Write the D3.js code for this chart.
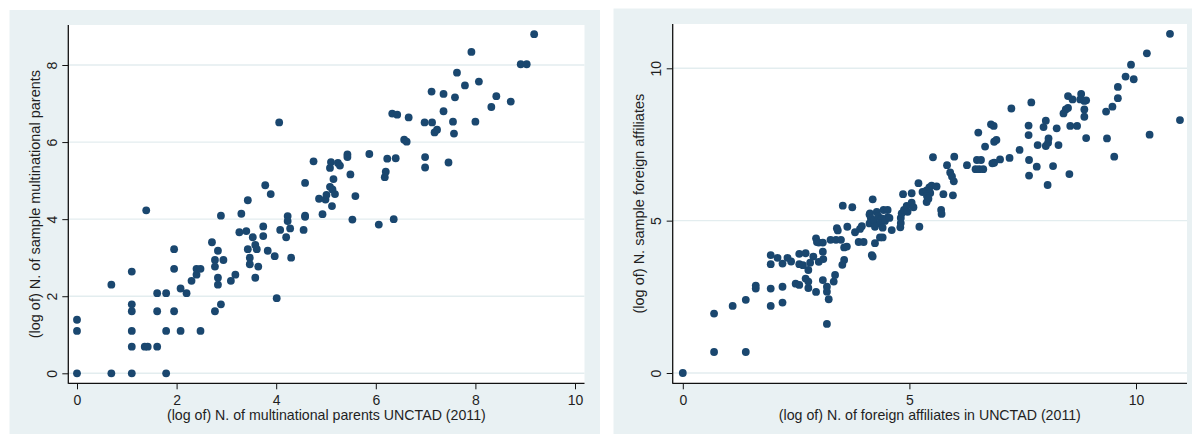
<!DOCTYPE html>
<html>
<head>
<meta charset="utf-8">
<script src="https://cdn.jsdelivr.net/npm/d3@7"></script>
<style>
  body { margin: 0; background: #ffffff; }
  svg text { font-family: "Liberation Sans", Arial, sans-serif; fill: #1f1f1f; }
</style>
</head>
<body>
<svg id="chart" width="1192" height="434"></svg>
<script>
"use strict"

// left panel: [log N. parents UNCTAD, log N. sample parents]
const parentsData = [
  [0,0],[0,1.39],[0,1.10],[0.69,0],[0.69,2.30],[1.10,0],[1.10,0.69],[1.10,1.10],[1.10,1.61],[1.10,1.79],
  [1.10,2.64],[1.39,4.23],[1.36,0.69],[1.42,0.69],[1.61,0.69],[1.61,1.61],[1.61,2.08],[1.79,0],[1.79,1.10],[1.79,2.08],
  [1.95,1.61],[1.95,2.71],[1.95,3.22],[2.08,1.10],[2.08,2.20],[2.20,2.08],[2.30,2.40],[2.40,2.56],[2.40,2.71],[2.48,2.71],
  [2.48,1.10],[2.71,3.40],[2.77,2.94],[2.77,2.77],[2.77,1.61],[2.83,3.18],[2.83,2.48],[2.83,2.30],[2.89,4.09],[2.89,1.79],
  [2.94,2.94],[3.09,2.40],[3.18,2.56],[3.26,3.66],[3.30,4.14],[3.40,3.69],[3.43,4.49],[3.43,3.22],[3.47,3.00],[3.47,2.83],
  [3.53,3.53],[3.58,3.33],[3.61,3.22],[3.58,2.48],[3.64,2.77],[3.74,3.81],[3.74,3.56],[3.78,4.88],[3.83,3.18],[3.89,4.65],
  [3.97,3.04],[4.01,1.95],[4.06,6.51],[4.08,3.72],[4.20,3.53],[4.23,4.08],[4.23,3.95],[4.28,3.76],[4.30,3.00],[4.55,3.72],
  [4.58,4.94],[4.58,4.09],[4.58,4.06],[4.75,5.50],[4.86,4.53],[4.93,4.13],[4.99,4.51],[5.01,4.63],[5.08,5.33],[5.10,5.48],
  [5.08,4.84],[5.13,4.77],[5.15,5.04],[5.12,4.34],[5.18,4.65],[5.24,5.46],[5.28,5.39],[5.43,5.68],[5.43,5.61],[5.49,5.16],
  [5.53,3.99],[5.59,4.60],[5.87,5.69],[6.06,3.86],[6.18,5.09],[6.20,5.23],[6.23,5.57],[6.33,6.74],[6.36,4.00],[6.40,5.58],
  [6.43,6.71],[6.57,6.06],[6.62,6.01],[6.66,6.64],[6.98,6.51],[6.99,5.61],[6.99,5.34],[7.12,7.31],[7.13,6.51],[7.18,6.25],
  [7.23,6.32],[7.36,7.25],[7.36,6.80],[7.46,5.47],[7.55,6.53],[7.57,6.22],[7.59,7.16],[7.63,7.80],[7.79,7.47],[7.92,8.34],
  [8.00,6.53],[8.07,7.57],[8.32,6.91],[8.42,7.19],[8.71,7.05],[8.91,8.02],[9.03,8.02],[9.18,8.80]
];

// right panel: [log N. foreign affiliates UNCTAD, log N. sample affiliates]
const affiliatesData = [
  [0,0],[0.69,1.95],[0.69,0.69],[1.39,0.69],[1.10,2.20],[1.39,2.40],[1.61,2.87],[1.61,2.77],[1.94,3.87],[1.94,3.57],
  [1.94,2.77],[1.94,2.20],[2.09,3.78],[2.20,3.59],[2.20,2.83],[2.20,2.31],[2.31,3.78],[2.39,3.66],[2.49,2.93],[2.57,2.89],
  [2.57,3.91],[2.57,3.57],[2.71,3.93],[2.65,3.54],[2.77,3.38],[2.71,3.10],[2.77,2.79],[2.77,3.00],[2.81,3.62],[2.88,3.82],
  [2.94,2.66],[3.00,3.65],[3.09,3.98],[3.10,3.74],[3.09,3.05],[3.18,2.83],[3.18,2.67],[3.22,2.42],[3.18,1.61],[2.94,4.42],
  [2.96,4.30],[3.00,4.28],[3.09,4.28],[3.33,3.00],[3.36,3.22],[3.40,4.75],[3.42,4.68],[3.26,4.37],[3.38,4.37],[3.49,4.37],
  [3.56,4.12],[3.56,3.71],[3.52,3.55],[3.63,4.80],[3.53,5.49],
  [3.74,5.44],[4.19,5.70],[3.80,4.62],[3.91,4.73],[3.95,4.82],[3.88,4.30],[3.99,4.30],[3.62,4.15],[4.17,3.87],[4.19,3.82],
  [4.24,4.26],[4.35,4.45],[4.41,4.45],[4.13,5.24],[4.28,5.29],[4.43,5.35],[4.52,5.35],[4.52,5.11],[4.61,4.69],[4.12,5.20],
  [4.15,5.07],[4.12,4.91],[4.22,5.02],[4.31,5.15],[4.39,5.07],[4.35,4.91],[4.46,4.99],[4.24,4.80],[4.56,5.09],[4.41,4.77],
  [4.80,4.78],[4.81,4.92],[4.81,5.09],[4.83,5.24],[4.88,5.35],[4.94,5.48],[4.96,5.29],[5.05,5.59],[5.09,5.44],[4.86,5.87],
  [5.05,5.90],[5.20,6.23],[5.22,4.80],[5.29,5.94],[5.38,5.99],[5.46,5.91],[5.44,6.09],[5.49,6.15],[5.39,5.80],[5.38,5.61],
  [5.42,5.72],[5.60,6.12],[5.52,7.08],[5.75,5.87],[5.70,5.35],[5.71,5.22],[5.83,6.82],[5.90,6.58],[5.94,6.45],[5.98,6.29],
  [5.99,7.10],[5.96,5.83],[6.27,6.82],[6.49,6.99],[6.58,6.99],[6.46,6.69],[6.54,6.69],[6.63,6.69],[6.52,7.89],[6.67,7.43],
  [6.80,8.16],[6.86,8.11],[6.87,7.59],[6.92,7.65],[6.83,6.88],[6.87,6.90],[7.00,7.01],[7.21,7.06],[7.25,8.68],[7.43,7.32],
  [7.63,8.12],[7.63,7.81],[7.69,8.88],[7.64,6.99],[7.64,6.48],[7.81,6.77],[7.83,7.48],[7.96,8.07],[8.01,8.28],[8.01,7.45],
  [8.06,7.56],[8.07,7.70],[8.05,6.17],[8.17,6.79],[8.25,8.03],[8.29,7.48],[8.40,8.52],[8.45,8.65],[8.50,8.70],[8.55,8.11],
  [8.70,8.11],[8.53,6.53],[8.50,9.09],[8.60,8.98],[8.79,9.16],[8.77,8.98],[8.86,8.93],[8.90,8.95],[8.86,8.65],[8.86,8.41],
  [8.90,7.71],[9.34,8.58],[9.36,7.70],[9.48,8.74],[9.52,7.10],[9.60,9.02],[9.60,9.39],[9.77,9.73],[9.89,10.12],[9.95,9.64],
  [10.24,10.49],[10.30,7.82],[10.75,11.13],[10.97,8.30]
];

const parentsXTicks = [0, 2, 4, 6, 8, 10];
const parentsYTicks = [0, 2, 4, 6, 8];
const affiliatesXTicks = [0, 5, 10];
const affiliatesYTicks = [0, 5, 10];

const parentsXTitle = "(log of) N. of multinational parents UNCTAD (2011)";
const parentsYTitle = "(log of) N. of sample multinational parents";
const affiliatesXTitle = "(log of) N. of foreign affiliates in UNCTAD (2011)";
const affiliatesYTitle = "(log of) N. sample foreign affiliates";

const svg = d3.select("#chart");
const bgColor = "#e9f1f3";
const gridColor = "#e3edef";
const dotColor = "#1a476f";

/**
 * @function
 * @description disegna un pannello scatter (sfondo, griglia, assi, punti, titoli)
 */
function drawPanel(p) {
    let g = svg.append("g");

    // outer background and white plot region
    g.append("rect")
        .attr("x", p.bg[0]).attr("y", p.bg[1])
        .attr("width", p.bg[2] - p.bg[0]).attr("height", p.bg[3] - p.bg[1])
        .attr("fill", bgColor);
    g.append("rect")
        .attr("x", p.plot[0]).attr("y", p.plot[1])
        .attr("width", p.plot[2] - p.plot[0]).attr("height", p.plot[3] - p.plot[1])
        .attr("fill", "#ffffff");

    let x = d3.scaleLinear().domain([0, 10]).range(p.xRange);
    let y = d3.scaleLinear().domain(p.yDomain).range(p.yRange);

    // horizontal grid
    g.append("g")
        .selectAll("line")
        .data(p.yTicks)
        .join("line")
        .attr("x1", p.plot[0]).attr("x2", p.plot[2])
        .attr("y1", d => y(d)).attr("y2", d => y(d))
        .attr("stroke", gridColor)
        .attr("stroke-width", 1.4);

    // points
    g.append("g")
        .selectAll("circle")
        .data(p.data)
        .join("circle")
        .attr("cx", d => x(d[0]))
        .attr("cy", d => y(d[1]))
        .attr("r", 3.9)
        .attr("fill", dotColor);

    // x axis
    let xAxis = g.append("g")
        .attr("transform", `translate(0,${p.plot[3]})`)
        .call(d3.axisBottom(x).tickValues(p.xTicks).tickSize(6).tickSizeOuter(0));
    xAxis.select(".domain").remove();
    xAxis.selectAll("line").attr("stroke", "#111");
    xAxis.selectAll("text")
        .attr("y", 21.3).attr("dy", null)
        .style("font-size", "14px");

    // y axis, labels rotated like stata
    let yAxis = g.append("g")
        .attr("transform", `translate(${p.plot[0]},0)`)
        .call(d3.axisLeft(y).tickValues(p.yTicks).tickSize(6).tickSizeOuter(0));
    yAxis.select(".domain").remove();
    yAxis.selectAll("line").attr("stroke", "#111");
    yAxis.selectAll("text")
        .attr("x", null).attr("dy", null)
        .attr("text-anchor", "middle")
        .attr("transform", "translate(-11.8,0) rotate(-90)")
        .style("font-size", "14px");

    // axis lines
    g.append("line")
        .attr("x1", p.plot[0]).attr("x2", p.plot[0])
        .attr("y1", p.plot[1]).attr("y2", p.plot[3] + 0.5)
        .attr("stroke", "#111").attr("stroke-width", 1.3);
    g.append("line")
        .attr("x1", p.plot[0]).attr("x2", p.plot[2])
        .attr("y1", p.plot[3]).attr("y2", p.plot[3])
        .attr("stroke", "#111").attr("stroke-width", 1.3);

    // titles
    g.append("text")
        .attr("x", (p.plot[0] + p.plot[2]) / 2)
        .attr("y", 419.5)
        .attr("text-anchor", "middle")
        .style("font-size", "14.2px")
        .text(p.xTitle);
    g.append("text")
        .attr("transform", `translate(${p.plot[0] - 28.5},${(p.plot[1] + p.plot[3]) / 2}) rotate(-90)`)
        .attr("text-anchor", "middle")
        .style("font-size", "14.5px")
        .text(p.yTitle);
}

drawPanel({
    bg: [9.5, 10, 600, 434],
    plot: [68.3, 25, 584.5, 383.3],
    xRange: [77, 575],
    yDomain: [0, 8],
    yRange: [373.3, 65],
    xTicks: parentsXTicks,
    yTicks: parentsYTicks,
    data: parentsData,
    xTitle: parentsXTitle,
    yTitle: parentsYTitle
});

drawPanel({
    bg: [613.5, 8.5, 1192, 434],
    plot: [672.7, 24, 1187, 383.3],
    xRange: [682.8, 1136],
    yDomain: [0, 10],
    yRange: [373, 68.3],
    xTicks: affiliatesXTicks,
    yTicks: affiliatesYTicks,
    data: affiliatesData,
    xTitle: affiliatesXTitle,
    yTitle: affiliatesYTitle
});
</script>
</body>
</html>
